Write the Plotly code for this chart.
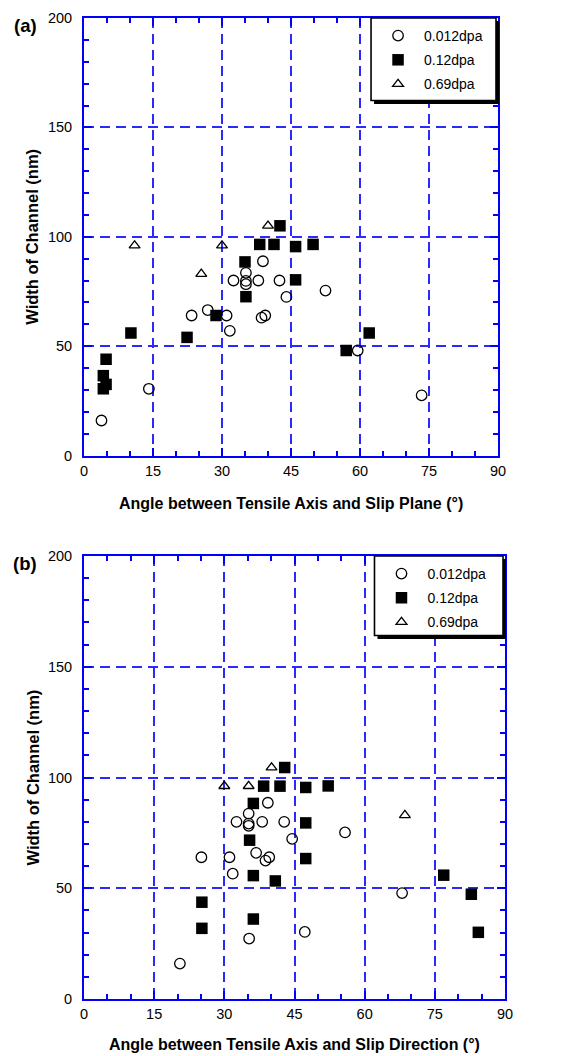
import plotly.graph_objects as go

W, H = 580, 1056

# ---------------- data ----------------
series_names = ["0.012dpa", "0.12dpa", "0.69dpa"]

# Panel (a): angle between tensile axis and slip plane
a_x_012 = [3.8, 14.1, 73.4, 59.5, 23.4, 26.9, 31.0, 31.7, 32.5, 35.2, 35.2, 35.2, 37.9, 38.9, 38.6, 39.4, 42.5, 44.0, 52.5]
a_y_012 = [16, 30.5, 27.5, 48, 64, 66.5, 64, 57, 80, 83.5, 79.8, 78.3, 80, 88.8, 63, 64, 80, 72.5, 75.4]
a_x_12 = [4.2, 4.2, 4.8, 4.8, 10.2, 22.4, 28.7, 35.0, 35.2, 38.2, 41.3, 42.6, 46.0, 46.0, 49.8, 57.0, 62.0]
a_y_12 = [36.5, 30.5, 32.5, 44, 56, 54, 64, 88.5, 72.6, 96.5, 96.5, 105, 95.5, 80.3, 96.5, 48, 56]
a_x_69 = [11.0, 25.5, 30.0, 40.0]
a_y_69 = [96, 83, 96, 105]

# Panel (b): angle between tensile axis and slip direction
b_x_012 = [20.5, 25.1, 31.1, 31.8, 32.6, 35.2, 35.2, 35.2, 35.3, 36.8, 38.1, 38.8, 39.6, 39.3, 42.8, 44.5, 47.2, 55.8, 68.0]
b_y_012 = [16, 64, 64, 56.6, 80, 83.7, 79.2, 78.2, 27.3, 66, 80, 62.5, 64, 88.6, 80, 72.3, 30.3, 75.2, 47.8]
b_x_12 = [25.2, 25.2, 36.2, 36.2, 40.9, 35.4, 36.2, 38.4, 41.9, 42.9, 47.4, 47.4, 47.4, 52.2, 76.9, 82.8, 84.3]
b_y_12 = [43.7, 31.9, 36.1, 55.7, 53.3, 71.7, 88.3, 96.1, 96.1, 104.5, 95.5, 79.5, 63.4, 96.2, 55.9, 47.3, 30.1]
b_x_69 = [30.0, 35.2, 40.1, 68.6]
b_y_69 = [96.1, 96.1, 104.5, 83]

x_ticks = [0, 15, 30, 45, 60, 75, 90]
y_ticks = [0, 50, 100, 150, 200]

x_title_a = "Angle between Tensile Axis and Slip Plane (°)"
x_title_b = "Angle between Tensile Axis and Slip Direction (°)"
y_title = "Width of Channel (nm)"

# ---------------- layout helpers ----------------
def px(x):
    return x / W

def py(y):
    return 1 - y / H

FONT = "Liberation Sans, Arial, Helvetica, sans-serif"
BLUE = "#0000ff"
GRID = "#2a2aff"

# plot boxes in pixels: (left, right, top, bottom)
box_a = (76.0, 490.0, 10.0, 447.5)
box_b = (76.0, 497.0, 548.0, 991.0)

fig = go.Figure()

marker_styles = [
    dict(symbol="circle-open", size=10.5, color="black", line=dict(width=1.3, color="black")),
    dict(symbol="square", size=11.5, color="black", line=dict(width=0)),
    dict(symbol="triangle-up-open", size=9.5, color="black", line=dict(width=1.3, color="black")),
]

panel_data = [
    ("x", "y", "legend", [(a_x_012, a_y_012), (a_x_12, a_y_12), (a_x_69, a_y_69)]),
    ("x2", "y2", "legend2", [(b_x_012, b_y_012), (b_x_12, b_y_12), (b_x_69, b_y_69)]),
]

for xa, ya, leg, sets in panel_data:
    for i, (xs, ys) in enumerate(sets):
        fig.add_trace(go.Scatter(
            x=xs, y=ys, mode="markers", name=series_names[i],
            marker=marker_styles[i], xaxis=xa, yaxis=ya, legend=leg,
            legendgroup=leg + str(i), showlegend=True, cliponaxis=False,
        ))

def xaxis_cfg(box):
    return dict(
        domain=[px(box[0]), px(box[1])], range=[0, 90], tickvals=x_ticks,
        showline=True, linecolor=BLUE, linewidth=2, mirror="ticks",
        ticks="inside", ticklen=8, tickwidth=1.5, tickcolor=BLUE,
        showgrid=True, gridcolor=GRID, gridwidth=1.8, griddash="10px,6px",
        zeroline=False, automargin=False, fixedrange=True,
        tickfont=dict(family=FONT, size=14.5, color="black"), ticklabelstandoff=1,
        minor=dict(dtick=5, tick0=0, ticks="inside", ticklen=5, tickwidth=1.5, tickcolor=BLUE, showgrid=False),
    )

def yaxis_cfg(box):
    return dict(
        domain=[py(box[3]), py(box[2])], range=[0, 200], tickvals=y_ticks,
        showline=True, linecolor=BLUE, linewidth=2, mirror="ticks",
        ticks="inside", ticklen=8, tickwidth=1.5, tickcolor=BLUE,
        showgrid=True, gridcolor=GRID, gridwidth=1.8, griddash="10px,6px",
        zeroline=False, automargin=False, fixedrange=True,
        tickfont=dict(family=FONT, size=14.5, color="black"), ticklabelstandoff=7,
        minor=dict(dtick=10, tick0=0, ticks="inside", ticklen=5, tickwidth=1.5, tickcolor=BLUE, showgrid=False),
    )

def ux(box, v):
    return box[0] + (box[1] - box[0]) * v / 90.0

def uy(box, v):
    return box[3] - (box[3] - box[2]) * v / 200.0

shapes = []
annotations = []
legends = {}
panels = [
    ("legend", box_a, x_title_a, "(a)", 62.4, 162.3, 48),
    ("legend2", box_b, x_title_b, "(b)", 62.1, 164.1, 45),
]
for name, box, xt, lab, leg_left, leg_bottom, title_gap in panels:
    l, r, t, b = box
    lx0, lx1 = ux(box, leg_left), r - 2
    ly0, ly1 = t, uy(box, leg_bottom)
    shapes.append(dict(type="rect", xref="paper", yref="paper", layer="above",
                       x0=px(lx0 + 3), x1=px(lx1 + 3), y0=py(ly0 + 3), y1=py(ly1 + 3.5),
                       fillcolor="black", line=dict(width=0)))
    shapes.append(dict(type="rect", xref="paper", yref="paper", layer="above",
                       x0=px(lx0), x1=px(lx1), y0=py(ly0), y1=py(ly1),
                       fillcolor="white", line=dict(width=1.6, color="black")))
    legends[name] = dict(
        x=px(lx0 + 1), y=py(ly0 + 2), xanchor="left", yanchor="top",
        bgcolor="rgba(0,0,0,0)", borderwidth=0, itemwidth=42,
        font=dict(family=FONT, size=14, color="black"),
        traceorder="grouped", tracegroupgap=3, itemclick=False, itemdoubleclick=False,
    )
    annotations.append(dict(text=xt, xref="paper", yref="paper", x=px((l + r) / 2), y=py(b + title_gap),
                            showarrow=False, xanchor="center", yanchor="middle",
                            font=dict(family=FONT, size=16, color="black", weight="bold")))
    annotations.append(dict(text=y_title, xref="paper", yref="paper", x=px(24), y=py((t + b) / 2),
                            showarrow=False, xanchor="center", yanchor="middle", textangle=-90,
                            font=dict(family=FONT, size=16.5, color="black", weight="bold")))
    annotations.append(dict(text=lab, xref="paper", yref="paper", x=px(17), y=py(t + 7),
                            showarrow=False, xanchor="center", yanchor="middle",
                            font=dict(family=FONT, size=18.5, color="black", weight="bold")))

fig.update_layout(
    width=W, height=H, autosize=False,
    margin=dict(l=0, r=0, t=0, b=0),
    paper_bgcolor="white", plot_bgcolor="white",
    xaxis=dict(xaxis_cfg(box_a), anchor="y"),
    yaxis=dict(yaxis_cfg(box_a), anchor="x"),
    xaxis2=dict(xaxis_cfg(box_b), anchor="y2"),
    yaxis2=dict(yaxis_cfg(box_b), anchor="x2"),
    legend=legends["legend"], legend2=legends["legend2"],
    shapes=shapes, annotations=annotations,
    showlegend=True,
)

fig.write_html("out.html")
